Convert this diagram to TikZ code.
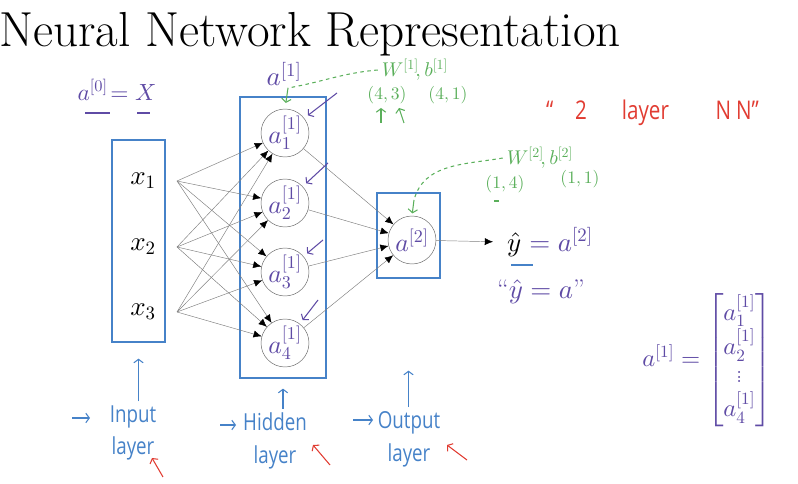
\documentclass[tikz,border=0pt]{standalone}
\usepackage{fontspec}
\usepackage{amsmath}
\usetikzlibrary{arrows.meta,fit}
\DeclareFontShape{OML}{cmm}{m}{it}{<->cmmi10}{}
\DeclareFontShape{OMS}{cmsy}{m}{n}{<->cmsy10}{}
\DeclareFontShape{OT1}{cmr}{m}{n}{<->cmr10}{}
\DeclareFontShape{OMX}{cmex}{m}{n}{<->cmex10}{}
\newfontfamily\hand[FakeStretch=0.8]{Open Sans}
\definecolor{pen}{RGB}{95,75,165}
\definecolor{ink}{RGB}{70,130,200}
\definecolor{wb}{RGB}{90,175,90}
\definecolor{redpen}{RGB}{225,60,50}

\begin{document}
\begin{tikzpicture}[%
  x=0.03cm,y=-0.03cm,
  unit/.style={draw=gray!80!black,circle,minimum size=1.44cm,inner sep=0pt,text=pen,font=\fontsize{22}{26}\selectfont},
  lyr/.style={draw=ink,line width=1.1pt,inner sep=0pt},
  syn/.style={draw=gray,-{Latex[black,length=7pt,width=6pt]}},
  barb/.style={-{Straight Barb[length=3pt,width=8pt]},line width=0.9pt},
  hw/.style={font=\hand\fontsize{20}{28}\selectfont,align=center},
  mth/.style={font=\fontsize{23}{27}\selectfont},
  sm/.style={text=wb,font=\fontsize{17}{20}\selectfont},
  dim/.style={text=wb,font=\fontsize{15}{18}\selectfont}]
  \useasboundingbox (0,0) rectangle (798,484);
  \node[anchor=base,font=\fontsize{42}{46}\selectfont] (title) at (310,47) {Neural Network Representation};
  % layers
  \node[lyr,fit={(112,140)(165,342)}] (inp) {};
  \node[lyr,fit={(240,97)(326,378)}] (hid) {};
  \node[lyr,fit={(377,193)(440,278)}] (out) {};
  \foreach \i/\y in {1/181,2/247,3/312} {
    \node[mth] (x\i) at (143,\y) {$x_{\i}$};
    \coordinate (s\i) at (177,\y);
  }
  \foreach \j/\y in {1/133,2/203,3/272,4/343}
    \node[unit] (h\j) at (285,\y) {$a^{[1]}_{\j}$};
  \node[unit] (o) at (412,240) {$a^{[2]}$};
  \foreach \i in {1,2,3} \foreach \j in {1,...,4} \draw[syn] (s\i) -- (h\j);
  \foreach \j in {1,...,4} \draw[syn] (h\j) -- (o);
  \node[mth,anchor=west] (yh) at (503,242) {$\hat{y}$ \textcolor{pen}{$= a^{[2]}$}};
  \draw[syn,shorten >=0.3cm] (o) -- (yh.west);
  \draw[ink,line width=0.9pt] (511,265) -- (533,265);
  \node[mth,text=pen] (yq) at (541,292) {``$\hat{y}=a$''};
  % inputs and hidden notation
  \node[mth,text=pen,font=\fontsize{20}{24}\selectfont] (a0) at (117,90) {$a^{[0]}\!=X$};
  \draw[pen,line width=0.9pt] (85,113) -- (110,113) (137,113) -- (150,113);
  \node[mth,text=pen] (a1) at (284,74) {$a^{[1]}$};
  \node[sm] (w1) at (415,70) {$W^{[1]}\!,b^{[1]}$};
  \node[dim] (d1w) at (387,95) {$(4,3)$};
  \node[dim] (d1b) at (448,95) {$(4,1)$};
  \draw[wb,barb] (381,123) -- (381,108);
  \draw[wb,barb] (404,123) -- (399,108);
  \coordinate (hin) at (288,88);
  \draw[wb,dashed,line width=0.9pt] (w1.west) to[out=185,in=10] (hin);
  \draw[wb,barb,shorten >=5pt] (hin) -- (h1.north);
  \node[sm] (w2) at (540,158) {$W^{[2]}\!,b^{[2]}$};
  \node[dim] (d2w) at (505,184) {$(1,4)$};
  \node[dim] (d2b) at (580,179) {$(1,1)$};
  \draw[wb,line width=0.9pt] (494,201) -- (499,201);
  \coordinate (oin) at (414,200);
  \draw[wb,dashed,line width=0.9pt] (w2.west) to[out=190,in=75] (oin);
  \draw[wb,barb,shorten >=2pt] (oin) -- (o.north);
  \foreach \j/\dx/\dy in {1/52/-40,2/43/-40,3/38/-32,4/33/-43}
    \draw[pen,barb,shorten >=4pt] ([shift={(\dx,\dy)}]h\j.center) -- (h\j);
  % right side
  \node[hw,text=redpen,font=\hand\fontsize{22}{26}\selectfont,anchor=west,inner sep=0pt] (nn) at (546,113)
    {“\hspace{0.65cm}2\hspace{1.05cm}layer\hspace{1.4cm}N\hspace{0.15cm}N”};
  \node[mth,text=pen,font=\fontsize{21}{24}\selectfont] (vec) at (707,360) {$a^{[1]} = \begin{bmatrix} a^{[1]}_1\\ a^{[1]}_2\\ \vdots\\ a^{[1]}_4\end{bmatrix}$};
  % layer names
  \node[hw,text=ink] (inl) at (133,433) {Input\\layer};
  \node[hw,text=ink] (hdl) at (275,441) {Hidden\\layer};
  \node[hw,text=ink] (otl) at (409,439) {Output\\layer};
  \foreach \l/\b/\s in {inl/inp/0.48cm,hdl/hid/0.3cm,otl/out/2.76cm}
    \draw[ink,barb,shorten >=\s] (\b.south |- \l.north) -- (\b.south);
  \draw[ink,barb] (72,418) -- (90,418);
  \draw[ink,barb] (220,425) -- (236,425);
  \draw[ink,barb] (353,420) -- (373,420);
  \draw[redpen,barb] (163,477) -- (152,458);
  \draw[redpen,barb] (330,465) -- (313,445);
  \draw[redpen,barb] (467,460) -- (447,445);
\end{tikzpicture}
\end{document}
